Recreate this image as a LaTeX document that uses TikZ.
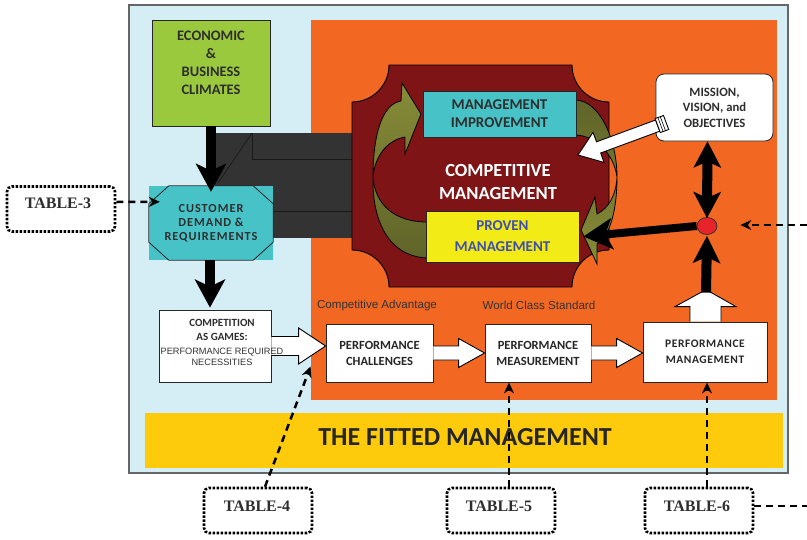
\documentclass[tikz,border=0pt]{standalone}
\usepackage{fontspec}
\setmainfont{Carlito}
\newfontfamily\arialf{Liberation Sans}
\newfontfamily\timesf{Liberation Serif}
\usetikzlibrary{arrows.meta,calc,shapes.geometric}
\definecolor{lightblueC}{HTML}{D5EDF4}
\definecolor{orangeC}{HTML}{F26722}
\definecolor{yellowC}{HTML}{FDCB0B}
\definecolor{greenC}{HTML}{9BC93D}
\definecolor{tealC}{HTML}{47C3C8}
\definecolor{maroonC}{HTML}{7E1416}
\definecolor{ybox}{HTML}{F3EB16}
\definecolor{blueT}{HTML}{3E4FB0}
\definecolor{darkT}{HTML}{2E2E2E}
\definecolor{darkblockC}{HTML}{333333}
\definecolor{oliveL}{HTML}{878C38}
\definecolor{oliveD}{HTML}{5F6429}
\definecolor{redC}{HTML}{E8232A}
\definecolor{panelB}{HTML}{666666}
\begin{document}
\begin{tikzpicture}[x=1pt,y=-1pt,
  box/.style={draw=black!85,line width=0.8pt,inner sep=0pt,align=center,text=darkT,font=\bfseries},
  txt/.style={inner sep=0pt,align=center},
  blackarr/.style={line width=10pt,black,-{Stealth[length=28pt,width=30pt,inset=7pt]}},
  blockarr/.style={fill=white,draw=black,line width=0.9pt,line join=miter},
  dasharr/.style={line width=2.5pt,black,dash pattern=on 7pt off 5pt,-{Stealth[length=11pt,width=10pt]}},
  dashline/.style={line width=2.5pt,black,dash pattern=on 7pt off 5pt},
  tabbox/.style={draw=black,line width=2.6pt,dash pattern=on 2.4pt off 1.6pt,rounded corners=5pt,minimum width=108pt,minimum height=45pt,inner sep=0pt},
  tabtxt/.style={inner sep=0pt,font=\timesf\bfseries\fontsize{16}{18}\selectfont,text=darkT},
  olivearr/.style={draw=black,line width=0.8pt},
  subt/.style={inner sep=0pt,font=\arialf\fontsize{11.6}{13}\selectfont,text=black!80}
]
\useasboundingbox (0,0) rectangle (807,539);
\fill[white] (0,0) rectangle (807,539);

% panels
\draw[panelB,line width=1.3pt,fill=lightblueC] (129,5) rectangle (788,473);
\fill[orangeC] (311,20) rectangle (777,400);
\fill[yellowC] (145,413) rectangle (783,468);
\node[txt,font=\bfseries\fontsize{26}{28}\selectfont,text=black!85] (fitted) at (465,437) {THE FITTED MANAGEMENT};

% dark connecting block
\fill[darkblockC] (215,133) rectangle (352,238);
\draw[black!90,line width=0.7pt] (252,133) -- (252,159) -- (352,159);
\draw[black!90,line width=0.7pt] (273,211) -- (352,211);
\draw[black!90,line width=0.7pt] (252,133) -- (218,183);

% economic box
\node[box,fill=greenC,minimum width=118pt,minimum height=106pt] (econ) at (211,73) {};
\node[txt,font=\bfseries\fontsize{14.5}{18}\selectfont,text=darkT] (econtxt) at (211,63) {ECONOMIC\\\&\\BUSINESS\\CLIMATES};

% customer box
\node[fill=tealC,minimum width=124pt,minimum height=74pt,inner sep=0pt,align=center,text=darkT,
  font=\bfseries\fontsize{12.3}{14}\selectfont\addfontfeature{LetterSpace=8}] (cust) at (211,223) {CUSTOMER\\DEMAND \&\\REQUIREMENTS};
\draw[black!85,line width=0.8pt] ($(cust.north west)+(20,0)$) -- ($(cust.north east)+(-20,0)$) -- ($(cust.north east)+(0,18)$) -- ($(cust.south east)+(0,-18)$) -- ($(cust.south east)+(-20,0)$) -- ($(cust.south west)+(20,0)$) -- ($(cust.south west)+(0,-18)$) -- ($(cust.north west)+(0,18)$) -- cycle;

% competition box
\node[box,fill=white,minimum width=112pt,minimum height=72pt] (comp) at (215,346) {};

% black arrows on the left
\draw[blackarr] (econ.south) -- ($(cust.north)+(0,6)$);
\draw[blackarr] ($(cust.south)+(-1,0)$) -- ($(comp.north)+(-5,-2)$);

% competitive management shape
\draw[black,line width=0.9pt,fill=maroonC] (389,65) -- (572,65) .. controls (572,85.4) and (588.6,102) .. (609,102) -- (609,250) .. controls (588.6,250) and (572,266.6) .. (572,287) -- (389,287) .. controls (389,266.6) and (372.4,250) .. (352,250) -- (352,102) .. controls (372.4,102) and (389,85.4) .. (389,65) -- cycle;

% olive curved arrows
\draw[olivearr,top color=oliveL,bottom color=oliveD] (427,258) .. controls (385,256) and (372,215) .. (373,177) .. controls (373,135) and (382,104) .. (401,101) -- (402,83) -- (421,114) -- (405,154) -- (405,137) .. controls (388,140) and (375,155) .. (373,177) .. controls (375,205) and (395,222) .. (427,222) -- cycle;
\draw[olivearr,top color=oliveD,bottom color=oliveL] (576,100) .. controls (600,101) and (617,140) .. (617,177) .. controls (617,215) and (608,238) .. (597,244) -- (597,264) -- (581,230) -- (595,197) -- (597,214) .. controls (609,208) and (616,195) .. (617,177) .. controls (614,155) and (597,136) .. (576,135) -- cycle;

\node[box,fill=tealC,minimum width=153pt,minimum height=46pt,font=\bfseries\fontsize{15}{18}\selectfont] (mi) at (499.5,114) {MANAGEMENT\\IMPROVEMENT};
\node[box,fill=ybox,minimum width=153pt,minimum height=51pt,text=blueT,font=\bfseries\fontsize{15}{21}\selectfont] (prov) at (502.5,236.5) {PROVEN\\MANAGEMENT};
\node[txt,text=white,font=\bfseries\fontsize{18.5}{23}\selectfont] (cmtxt) at (498,181.5) {COMPETITIVE\\MANAGEMENT};

% mission box
\node[box,fill=white,rounded corners=8pt,minimum width=117pt,minimum height=67pt,font=\bfseries\fontsize{12.7}{15.5}\selectfont] (mission) at (714.5,107.5) {MISSION,\\VISION, and\\OBJECTIVES};

% white arrow from mission
\draw[blockarr] (655.6,120) -- (596.5,141.8) -- (593,132.4) -- (578,155) -- (604,162.4) -- (600.7,153) -- (659.8,131.2) -- cycle;
\draw[blockarr] (655.1,118.6) -- (663.5,115.5) -- (668.7,129.5) -- (660.3,132.6) -- cycle;
\draw[black,line width=0.6pt] (657.9,117.6) -- (663.1,131.6);
\draw[black,line width=0.6pt] (660.3,116.7) -- (665.5,130.7);

% red dot
\node[draw=black!80,line width=0.8pt,fill=redC,ellipse,minimum width=20pt,minimum height=17pt,inner sep=0pt] (dot) at (707,226) {};

% performance boxes
\node[box,fill=white,minimum width=107pt,minimum height=58pt,font=\bfseries\fontsize{12.5}{16}\selectfont,text=black!85] (pc) at (379.5,353) {PERFORMANCE\\CHALLENGES};
\node[box,fill=white,minimum width=106pt,minimum height=58pt,font=\bfseries\fontsize{12.5}{16}\selectfont,text=black!85] (pm) at (538,353) {PERFORMANCE\\MEASUREMENT};
\node[box,fill=white,minimum width=124pt,minimum height=60pt,font=\bfseries\fontsize{11.5}{16}\selectfont\addfontfeature{LetterSpace=5},text=black!85] (pmg) at (705,352) {PERFORMANCE\\MANAGEMENT};

% subtitles
\node[subt] (advlbl) at (377,305) {Competitive Advantage};
\node[subt] (wclbl) at (539,305) {World Class Standard};

% white block arrows
\draw[blockarr] ($(comp.east)+(0,-9.5)$) -- ($(pc.west |- comp.east)+(-27,-9.5)$) -- ($(pc.west |- comp.east)+(-27,-18)$) -- (pc.west |- comp.east) -- ($(pc.west |- comp.east)+(-27,18)$) -- ($(pc.west |- comp.east)+(-27,9.5)$) -- ($(comp.east)+(0,9.5)$);
\draw[blockarr] ($(pc.east)+(0,-7)$) -- ($(pm.west)+(-26,-7)$) -- ($(pm.west)+(-26,-14.5)$) -- (pm.west) -- ($(pm.west)+(-26,14.5)$) -- ($(pm.west)+(-26,7)$) -- ($(pc.east)+(0,7)$);
\draw[blockarr] ($(pm.east)+(0,-7)$) -- ($(pmg.west |- pm.east)+(-26,-7)$) -- ($(pmg.west |- pm.east)+(-26,-14.5)$) -- (pmg.west |- pm.east) -- ($(pmg.west |- pm.east)+(-26,14.5)$) -- ($(pmg.west |- pm.east)+(-26,7)$) -- ($(pm.east)+(0,7)$);
\draw[blockarr] ($(pmg.north)+(-15,0)$) -- ($(pmg.north)+(-15,-15)$) -- ($(pmg.north)+(-30,-15)$) -- ($(pmg.north)+(1,-32)$) -- ($(pmg.north)+(31,-15)$) -- ($(pmg.north)+(16,-15)$) -- ($(pmg.north)+(16,0)$);

% competition text (overlaps its arrow, as in the original)
\node[txt,font=\bfseries\fontsize{11}{14}\selectfont,text=darkT] (comptxt) at (222,330) {COMPETITION\\AS GAMES:};
\node[txt,font=\arialf\fontsize{9.2}{11.5}\selectfont,text=black!80] (comptxt2) at (222,357) {PERFORMANCE REQUIRED\\NECESSITIES};

% black arrows around the dot
\draw[line width=10pt,black,-{Stealth[length=27pt,width=27pt,inset=6pt]}] ($(pmg.north)+(1,-29)$) -- ($(dot.south)+(0,1)$);
\draw[line width=10pt,black,{Stealth[length=26pt,width=27pt,inset=6pt]}-{Stealth[length=26pt,width=27pt,inset=6pt]}] ($(dot.north)+(0,1)$) -- ($(mission.south)+(-7,0)$);
\draw[line width=8pt,black,-{Stealth[length=29pt,width=31pt,inset=7pt]}] (dot.west) -- ($(prov.east)+(4,0)$);

% tables
\node[tabbox] (t3) at (61,209) {};
\node[tabtxt] (t3txt) at (58,203) {TABLE-3};
\node[tabbox] (t4) at (258,510.5) {};
\node[tabtxt] (t4txt) at (257,506) {TABLE-4};
\node[tabbox] (t5) at (501,510.5) {};
\node[tabtxt] (t5txt) at (499,506) {TABLE-5};
\node[tabbox] (t6) at (699,510.5) {};
\node[tabtxt] (t6txt) at (697,506) {TABLE-6};

\coordinate (rightin) at (807,225);
\coordinate (rightout) at (807,506);

% dashed connectors
\draw[dasharr] ($(t3.east)+(0,-7)$) -- ($(cust.north west)+(11,16)$);
\draw[dasharr] ($(t4.north)+(7,0)$) -- ($(pc.south west)+(-15,-16)$);
\draw[dasharr] ($(t5.north)+(8,0)$) -- ($(pm.south)+(-29,0)$);
\draw[dasharr] ($(t6.north)+(8,0)$) -- ($(pmg.south)+(2,0)$);
\draw[dasharr,shorten >=23pt] (rightin) -- (rightin -| dot.east);
\draw[dashline] (rightout -| t6.east) -- (rightout);
\end{tikzpicture}
\end{document}
